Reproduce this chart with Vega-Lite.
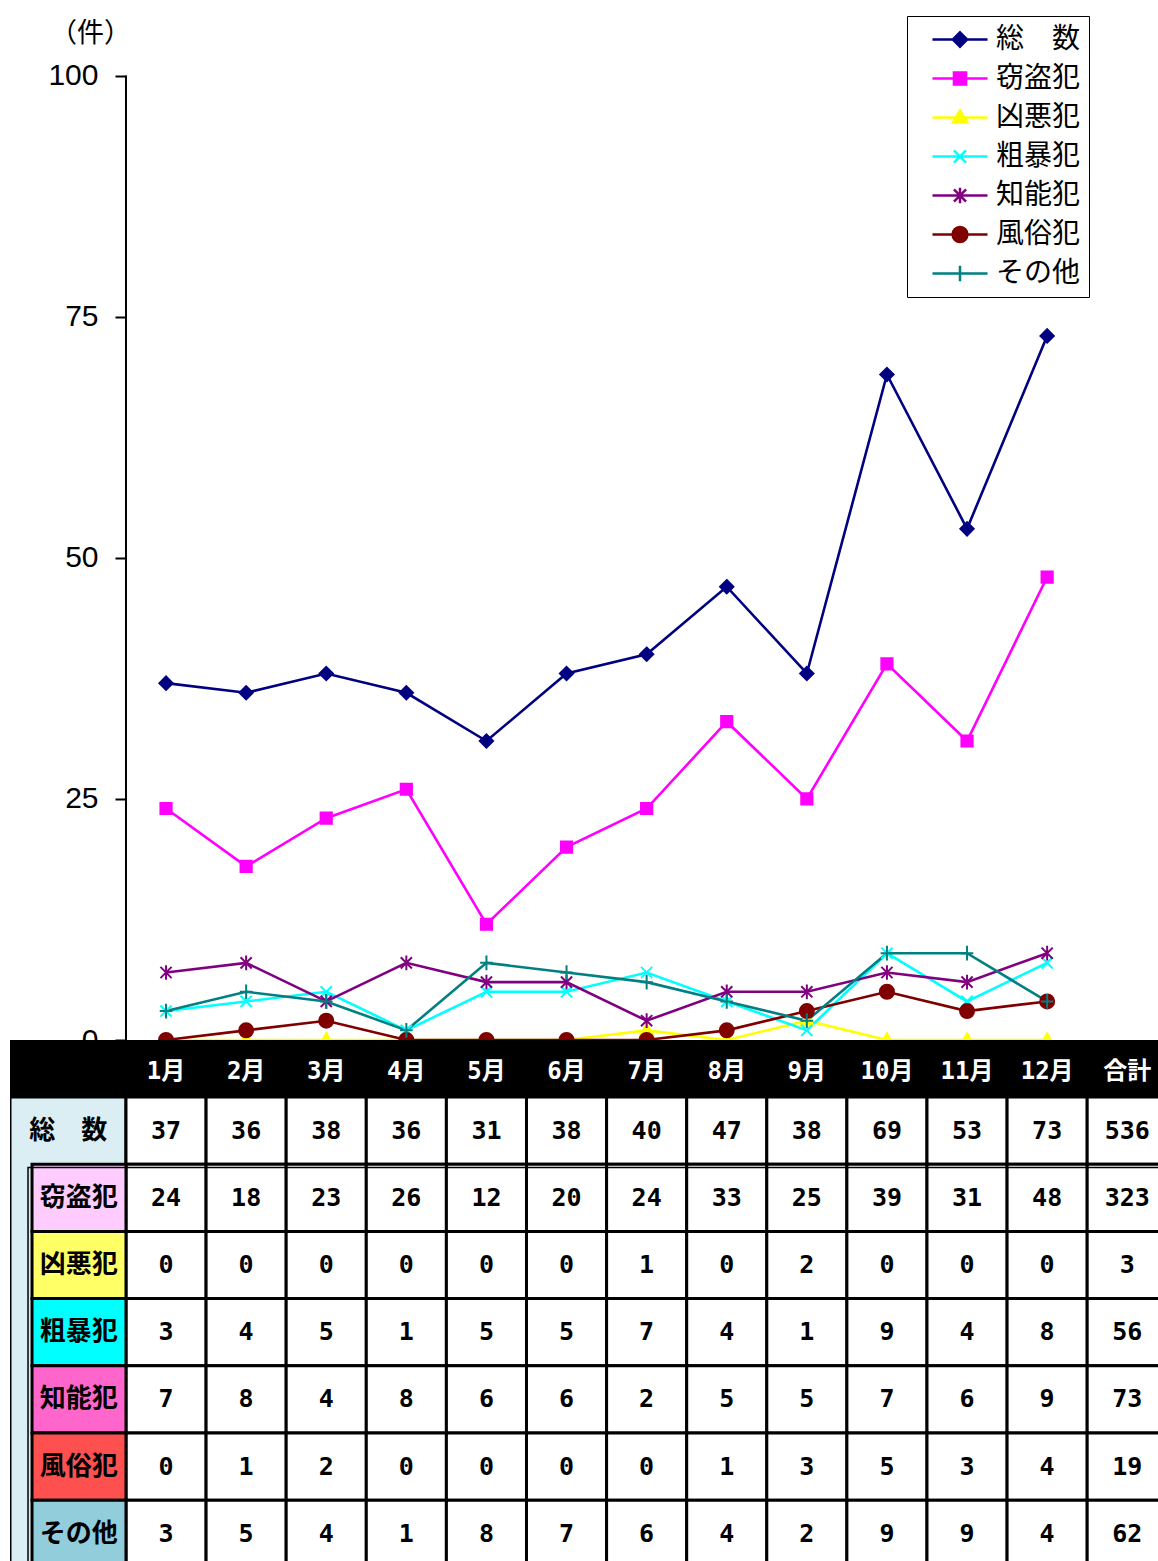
{
  "$schema": "https://vega.github.io/schema/vega-lite/v6.json",
  "padding": {"left": 10, "top": 0, "right": 0, "bottom": 0},
  "background": "white",
  "config": {"view": {"stroke": null}},
  "spacing": 0,
  "bounds": "flush",
  "data": {"values": [
    {"category":"総　数","month":1,"count":37},{"category":"総　数","month":2,"count":36},{"category":"総　数","month":3,"count":38},{"category":"総　数","month":4,"count":36},{"category":"総　数","month":5,"count":31},{"category":"総　数","month":6,"count":38},{"category":"総　数","month":7,"count":40},{"category":"総　数","month":8,"count":47},{"category":"総　数","month":9,"count":38},{"category":"総　数","month":10,"count":69},{"category":"総　数","month":11,"count":53},{"category":"総　数","month":12,"count":73},{"category":"総　数","month":13,"count":536},
    {"category":"窃盗犯","month":1,"count":24},{"category":"窃盗犯","month":2,"count":18},{"category":"窃盗犯","month":3,"count":23},{"category":"窃盗犯","month":4,"count":26},{"category":"窃盗犯","month":5,"count":12},{"category":"窃盗犯","month":6,"count":20},{"category":"窃盗犯","month":7,"count":24},{"category":"窃盗犯","month":8,"count":33},{"category":"窃盗犯","month":9,"count":25},{"category":"窃盗犯","month":10,"count":39},{"category":"窃盗犯","month":11,"count":31},{"category":"窃盗犯","month":12,"count":48},{"category":"窃盗犯","month":13,"count":323},
    {"category":"凶悪犯","month":1,"count":0},{"category":"凶悪犯","month":2,"count":0},{"category":"凶悪犯","month":3,"count":0},{"category":"凶悪犯","month":4,"count":0},{"category":"凶悪犯","month":5,"count":0},{"category":"凶悪犯","month":6,"count":0},{"category":"凶悪犯","month":7,"count":1},{"category":"凶悪犯","month":8,"count":0},{"category":"凶悪犯","month":9,"count":2},{"category":"凶悪犯","month":10,"count":0},{"category":"凶悪犯","month":11,"count":0},{"category":"凶悪犯","month":12,"count":0},{"category":"凶悪犯","month":13,"count":3},
    {"category":"粗暴犯","month":1,"count":3},{"category":"粗暴犯","month":2,"count":4},{"category":"粗暴犯","month":3,"count":5},{"category":"粗暴犯","month":4,"count":1},{"category":"粗暴犯","month":5,"count":5},{"category":"粗暴犯","month":6,"count":5},{"category":"粗暴犯","month":7,"count":7},{"category":"粗暴犯","month":8,"count":4},{"category":"粗暴犯","month":9,"count":1},{"category":"粗暴犯","month":10,"count":9},{"category":"粗暴犯","month":11,"count":4},{"category":"粗暴犯","month":12,"count":8},{"category":"粗暴犯","month":13,"count":56},
    {"category":"知能犯","month":1,"count":7},{"category":"知能犯","month":2,"count":8},{"category":"知能犯","month":3,"count":4},{"category":"知能犯","month":4,"count":8},{"category":"知能犯","month":5,"count":6},{"category":"知能犯","month":6,"count":6},{"category":"知能犯","month":7,"count":2},{"category":"知能犯","month":8,"count":5},{"category":"知能犯","month":9,"count":5},{"category":"知能犯","month":10,"count":7},{"category":"知能犯","month":11,"count":6},{"category":"知能犯","month":12,"count":9},{"category":"知能犯","month":13,"count":73},
    {"category":"風俗犯","month":1,"count":0},{"category":"風俗犯","month":2,"count":1},{"category":"風俗犯","month":3,"count":2},{"category":"風俗犯","month":4,"count":0},{"category":"風俗犯","month":5,"count":0},{"category":"風俗犯","month":6,"count":0},{"category":"風俗犯","month":7,"count":0},{"category":"風俗犯","month":8,"count":1},{"category":"風俗犯","month":9,"count":3},{"category":"風俗犯","month":10,"count":5},{"category":"風俗犯","month":11,"count":3},{"category":"風俗犯","month":12,"count":4},{"category":"風俗犯","month":13,"count":19},
    {"category":"その他","month":1,"count":3},{"category":"その他","month":2,"count":5},{"category":"その他","month":3,"count":4},{"category":"その他","month":4,"count":1},{"category":"その他","month":5,"count":8},{"category":"その他","month":6,"count":7},{"category":"その他","month":7,"count":6},{"category":"その他","month":8,"count":4},{"category":"その他","month":9,"count":2},{"category":"その他","month":10,"count":9},{"category":"その他","month":11,"count":9},{"category":"その他","month":12,"count":4},{"category":"その他","month":13,"count":62}
  ]},
  "vconcat": [
    {
      "width": 1148,
      "height": 1040,
      "transform": [{"filter": "datum.month <= 12"}],
      "layer": [
        {
          "transform": [{"filter": "datum.month == 1 && datum.category == '総　数'"}],
          "mark": {"type": "rule", "color": "black", "strokeWidth": 2},
          "encoding": {
            "x": {"datum": 0.5, "type": "quantitative", "scale": {"domain": [-0.948, 13.384], "nice": false, "zero": false}, "axis": null},
            "y": {"datum": 0, "type": "quantitative", "scale": {"domain": [0, 107.83], "nice": false, "zero": false},
              "axis": {"values": [0, 25, 50, 75, 100], "offset": -116, "domain": false, "grid": false, "ticks": true, "tickSize": 11, "tickWidth": 2, "tickColor": "black", "labelFont": "Liberation Sans", "labelFontSize": 30, "labelColor": "black", "labelPadding": 17, "title": "（件）", "titleAngle": 0, "titleFont": "Noto Sans CJK JP", "titleFontSize": 27, "titleFontWeight": "normal", "titleColor": "black", "titleX": -36, "titleY": 33, "titleAlign": "center", "titleBaseline": "middle"}},
            "y2": {"datum": 100}
          }
        },
        {
          "mark": {"type": "line", "strokeWidth": 2.6},
          "encoding": {
            "x": {"field": "month", "type": "quantitative", "scale": {"domain": [-0.948, 13.384], "nice": false, "zero": false}, "axis": null},
            "y": {"field": "count", "type": "quantitative", "scale": {"domain": [0, 107.83], "nice": false, "zero": false},
              "axis": {"values": [0, 25, 50, 75, 100], "offset": -116, "domain": false, "grid": false, "ticks": true, "tickSize": 11, "tickWidth": 2, "tickColor": "black", "labelFont": "Liberation Sans", "labelFontSize": 30, "labelColor": "black", "labelPadding": 17, "title": "（件）", "titleAngle": 0, "titleFont": "Noto Sans CJK JP", "titleFontSize": 27, "titleFontWeight": "normal", "titleColor": "black", "titleX": -36, "titleY": 33, "titleAlign": "center", "titleBaseline": "middle"}},
            "color": {"field": "category", "type": "nominal", "scale": {"domain": ["総　数","窃盗犯","凶悪犯","粗暴犯","知能犯","風俗犯","その他"], "range": ["#000080","#FF00FF","#FFFF00","#00FFFF","#800080","#800000","#008080"]}, "legend": null}
          }
        },
        {
          "mark": {"type": "point", "size": 196, "strokeWidth": 2, "opacity": 1},
          "encoding": {
            "x": {"field": "month", "type": "quantitative", "scale": {"domain": [-0.948, 13.384], "nice": false, "zero": false}, "axis": null},
            "y": {"field": "count", "type": "quantitative", "scale": {"domain": [0, 107.83], "nice": false, "zero": false},
              "axis": {"values": [0, 25, 50, 75, 100], "offset": -116, "domain": false, "grid": false, "ticks": true, "tickSize": 11, "tickWidth": 2, "tickColor": "black", "labelFont": "Liberation Sans", "labelFontSize": 30, "labelColor": "black", "labelPadding": 17, "title": "（件）", "titleAngle": 0, "titleFont": "Noto Sans CJK JP", "titleFontSize": 27, "titleFontWeight": "normal", "titleColor": "black", "titleX": -36, "titleY": 33, "titleAlign": "center", "titleBaseline": "middle"}},
            "fill": {"field": "category", "type": "nominal", "scale": {"domain": ["総　数","窃盗犯","凶悪犯","粗暴犯","知能犯","風俗犯","その他"], "range": ["#000080","#FF00FF","#FFFF00","#00FFFF","#800080","#800000","#008080"]}, "legend": null},
            "stroke": {"field": "category", "type": "nominal", "scale": {"domain": ["総　数","窃盗犯","凶悪犯","粗暴犯","知能犯","風俗犯","その他"], "range": ["#000080","#FF00FF","#FFFF00","#00FFFF","#800080","#800000","#008080"]}, "legend": null},
            "shape": {"field": "category", "type": "nominal", "scale": {"domain": ["総　数","窃盗犯","凶悪犯","粗暴犯","知能犯","風俗犯","その他"], "range": [
              "M0,-0.95L0.95,0L0,0.95L-0.95,0Z",
              "M-0.8,-0.8L0.8,-0.8L0.8,0.8L-0.8,0.8Z",
              "M0,-0.95L0.95,0.7L-0.95,0.7Z",
              "M-0.8,-0.8L0.8,0.8M-0.8,0.8L0.8,-0.8",
              "M-0.8,-0.8L0.8,0.8M-0.8,0.8L0.8,-0.8M0,-1.05L0,1.05",
              "M1.0,0A1.0,1.0,0,1,1,-1.0,0A1.0,1.0,0,1,1,1.0,0Z",
              "M-0.9,0L0.9,0M0,-1.05L0,1.05"]}, "legend": null}
          }
        },
        {
          "mark": {"type": "point", "size": 0, "strokeWidth": 2.5},
          "encoding": {
            "x": {"field": "month", "type": "quantitative", "scale": {"domain": [-0.948, 13.384], "nice": false, "zero": false}, "axis": null},
            "y": {"field": "count", "type": "quantitative", "scale": {"domain": [0, 107.83], "nice": false, "zero": false},
              "axis": {"values": [0, 25, 50, 75, 100], "offset": -116, "domain": false, "grid": false, "ticks": true, "tickSize": 11, "tickWidth": 2, "tickColor": "black", "labelFont": "Liberation Sans", "labelFontSize": 30, "labelColor": "black", "labelPadding": 17, "title": "（件）", "titleAngle": 0, "titleFont": "Noto Sans CJK JP", "titleFontSize": 27, "titleFontWeight": "normal", "titleColor": "black", "titleX": -36, "titleY": 33, "titleAlign": "center", "titleBaseline": "middle"}},
            "fill": {"field": "category", "type": "nominal", "scale": {"domain": ["総　数","窃盗犯","凶悪犯","粗暴犯","知能犯","風俗犯","その他"], "range": ["#000080","#FF00FF","#FFFF00","#00FFFF","#800080","#800000","#008080"]},
              "legend": {"orient": "none", "legendX": 897, "legendY": 16, "title": null, "symbolSize": 3025, "symbolStrokeWidth": 2.5, "symbolOpacity": 1, "clipHeight": 31, "rowPadding": 8, "padding": 8, "strokeColor": "black", "fillColor": "white", "labelFont": "Noto Sans CJK JP", "labelFontSize": 28, "labelColor": "black", "labelOffset": 7, "symbolOffset": 16, "labelLimit": 220}},
            "stroke": {"field": "category", "type": "nominal", "scale": {"domain": ["総　数","窃盗犯","凶悪犯","粗暴犯","知能犯","風俗犯","その他"], "range": ["#000080","#FF00FF","#FFFF00","#00FFFF","#800080","#800000","#008080"]},
              "legend": {"orient": "none", "legendX": 897, "legendY": 16, "title": null, "symbolSize": 3025, "symbolStrokeWidth": 2.5, "symbolOpacity": 1, "clipHeight": 31, "rowPadding": 8, "padding": 8, "strokeColor": "black", "fillColor": "white", "labelFont": "Noto Sans CJK JP", "labelFontSize": 28, "labelColor": "black", "labelOffset": 7, "symbolOffset": 16, "labelLimit": 220}},
            "shape": {"field": "category", "type": "nominal", "scale": {"domain": ["総　数","窃盗犯","凶悪犯","粗暴犯","知能犯","風俗犯","その他"], "range": [
              "M-1,0L1,0M0,-0.26L0.26,0L0,0.26L-0.26,0Z",
              "M-1,0L1,0M-0.22,-0.22L0.22,-0.22L0.22,0.22L-0.22,0.22Z",
              "M-1,0L1,0M0,-0.26L0.26,0.18L-0.26,0.18Z",
              "M-1,0L1,0M-0.22,-0.22L0.22,0.22M-0.22,0.22L0.22,-0.22",
              "M-1,0L1,0M-0.22,-0.22L0.22,0.22M-0.22,0.22L0.22,-0.22M0,-0.28L0,0.28",
              "M-1,0L1,0M0.27,0A0.27,0.27,0,1,1,-0.27,0A0.27,0.27,0,1,1,0.27,0Z",
              "M-1,0L1,0M0,-0.28L0,0.28"]},
              "legend": {"orient": "none", "legendX": 897, "legendY": 16, "title": null, "symbolSize": 3025, "symbolStrokeWidth": 2.5, "symbolOpacity": 1, "clipHeight": 31, "rowPadding": 8, "padding": 8, "strokeColor": "black", "fillColor": "white", "labelFont": "Noto Sans CJK JP", "labelFontSize": 28, "labelColor": "black", "labelOffset": 7, "symbolOffset": 16, "labelLimit": 220}}
          }
        }
      ],
      "resolve": {"scale": {"fill": "independent", "stroke": "independent", "shape": "independent"}}
    },
    {
      "width": 1148,
      "height": 521,
      "transform": [
        {"calculate": "indexof(['総　数','窃盗犯','凶悪犯','粗暴犯','知能犯','風俗犯','その他'], datum.category)", "as": "r"},
        {"calculate": "datum.r + 1", "as": "r1"},
        {"calculate": "datum.r + 0.5", "as": "rm"},
        {"calculate": "datum.month - 0.5", "as": "c0"},
        {"calculate": "datum.month + 0.5", "as": "c1"}
      ],
      "layer": [
        {
          "transform": [{"filter": "datum.month == 1 && datum.r == 0"}],
          "mark": {"type": "rect", "fill": "#DAEEF3", "stroke": "black", "strokeWidth": 3, "clip": true},
          "encoding": {
            "x": {"datum": -0.948, "type": "quantitative", "scale": {"domain": [-0.948, 13.384], "nice": false, "zero": false}, "axis": null},
            "x2": {"datum": 0.5},
            "y": {"datum": 0, "type": "quantitative", "scale": {"domain": [-0.848, 6.905], "nice": false, "zero": false, "reverse": true}, "axis": null},
            "y2": {"datum": 7.5}
          }
        },
        {
          "transform": [{"filter": "datum.month == 1 && datum.r == 0"}],
          "mark": {"type": "rect", "fill": "black"},
          "encoding": {
            "x": {"datum": -0.948, "type": "quantitative", "scale": {"domain": [-0.948, 13.384], "nice": false, "zero": false}, "axis": null},
            "x2": {"datum": 13.384},
            "y": {"datum": -0.848, "type": "quantitative", "scale": {"domain": [-0.848, 6.905], "nice": false, "zero": false, "reverse": true}, "axis": null},
            "y2": {"datum": 0}
          }
        },
        {
          "mark": {"type": "rect", "fill": "white", "stroke": "black", "strokeWidth": 3, "clip": true},
          "encoding": {
            "x": {"field": "c0", "type": "quantitative", "scale": {"domain": [-0.948, 13.384], "nice": false, "zero": false}, "axis": null},
            "x2": {"field": "c1"},
            "y": {"field": "r", "type": "quantitative", "scale": {"domain": [-0.848, 6.905], "nice": false, "zero": false, "reverse": true}, "axis": null},
            "y2": {"field": "r1"}
          }
        },
        {
          "transform": [{"filter": "datum.month == 1 && datum.r > 0"}],
          "mark": {"type": "rect", "stroke": "black", "strokeWidth": 3, "clip": true},
          "encoding": {
            "x": {"datum": -0.673, "type": "quantitative", "scale": {"domain": [-0.948, 13.384], "nice": false, "zero": false}, "axis": null},
            "x2": {"datum": 0.5},
            "y": {"field": "r", "type": "quantitative", "scale": {"domain": [-0.848, 6.905], "nice": false, "zero": false, "reverse": true}, "axis": null},
            "y2": {"field": "r1"},
            "fill": {"field": "category", "type": "nominal", "scale": {"domain": ["窃盗犯","凶悪犯","粗暴犯","知能犯","風俗犯","その他"], "range": ["#FFCCFF","#FFFF66","#00FFFF","#FF66CC","#FF5050","#92CDDC"]}, "legend": null}
          }
        },
        {
          "transform": [{"filter": "datum.month == 1 && datum.r == 0"}],
          "mark": {"type": "rect", "fill": "transparent", "stroke": "black", "strokeWidth": 1.5, "clip": true},
          "encoding": {
            "x": {"datum": -0.723, "type": "quantitative", "scale": {"domain": [-0.948, 13.384], "nice": false, "zero": false}, "axis": null},
            "x2": {"datum": 14},
            "y": {"datum": 1.05, "type": "quantitative", "scale": {"domain": [-0.848, 6.905], "nice": false, "zero": false, "reverse": true}, "axis": null},
            "y2": {"datum": 8}
          }
        },
        {
          "transform": [{"filter": "datum.r == 0"}, {"calculate": "datum.month == 13 ? '合計' : datum.month + '月'", "as": "h"}],
          "mark": {"type": "text", "color": "white", "font": "DejaVu Sans Mono, Noto Sans CJK JP", "fontSize": 24, "fontWeight": "bold", "baseline": "middle", "align": "center"},
          "encoding": {
            "x": {"field": "month", "type": "quantitative", "scale": {"domain": [-0.948, 13.384], "nice": false, "zero": false}, "axis": null},
            "y": {"datum": -0.37, "type": "quantitative", "scale": {"domain": [-0.848, 6.905], "nice": false, "zero": false, "reverse": true}, "axis": null},
            "text": {"field": "h"}
          }
        },
        {
          "mark": {"type": "text", "color": "black", "font": "DejaVu Sans Mono", "fontSize": 25, "fontWeight": "bold", "baseline": "middle", "align": "center"},
          "encoding": {
            "x": {"field": "month", "type": "quantitative", "scale": {"domain": [-0.948, 13.384], "nice": false, "zero": false}, "axis": null},
            "y": {"field": "rm", "type": "quantitative", "scale": {"domain": [-0.848, 6.905], "nice": false, "zero": false, "reverse": true}, "axis": null},
            "text": {"field": "count"}
          }
        },
        {
          "transform": [{"filter": "datum.month == 1"}, {"calculate": "datum.r == 0 ? -0.22 : -0.09", "as": "lx"}],
          "mark": {"type": "text", "color": "black", "font": "Noto Sans CJK JP", "fontSize": 26, "fontWeight": "bold", "baseline": "middle", "align": "center"},
          "encoding": {
            "x": {"field": "lx", "type": "quantitative", "scale": {"domain": [-0.948, 13.384], "nice": false, "zero": false}, "axis": null},
            "y": {"field": "rm", "type": "quantitative", "scale": {"domain": [-0.848, 6.905], "nice": false, "zero": false, "reverse": true}, "axis": null},
            "text": {"field": "category"}
          }
        }
      ]
    }
  ],
  "resolve": {"scale": {"x": "independent", "y": "independent", "fill": "independent", "stroke": "independent", "shape": "independent", "color": "independent"}}
}
